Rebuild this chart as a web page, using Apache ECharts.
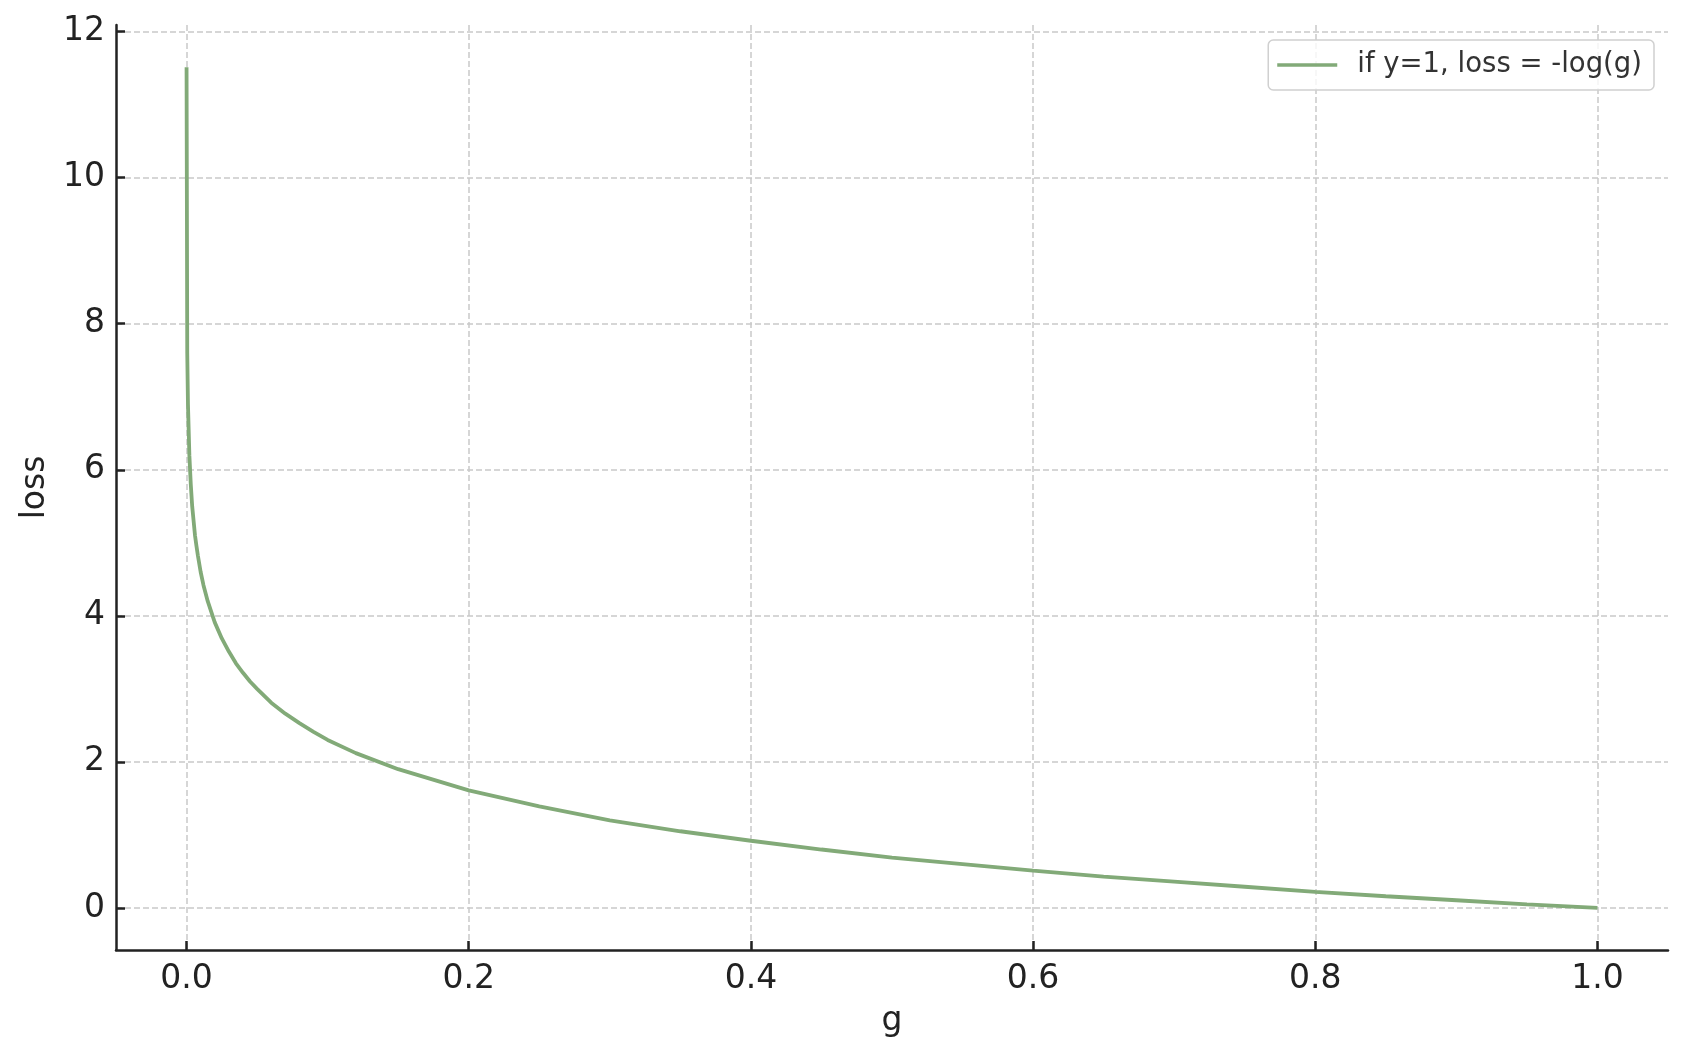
<!DOCTYPE html>
<html>
<head>
<meta charset="utf-8">
<script src="https://cdn.jsdelivr.net/npm/echarts@6/dist/echarts.min.js"></script>
<style>
html,body{margin:0;padding:0;background:#fff;}
#chart{width:1686px;height:1057px;}
</style>
</head>
<body>
<div id="chart"></div>
<script>
// Values
var gValues = [0.00001, 0.0005, 0.001, 0.002, 0.003, 0.004, 0.005, 0.006, 0.007, 0.008, 0.01, 0.012, 0.015, 0.02, 0.025, 0.03, 0.035, 0.04, 0.045, 0.05, 0.06, 0.07, 0.08, 0.09, 0.1, 0.12, 0.15, 0.2, 0.25, 0.3, 0.35, 0.4, 0.45, 0.5, 0.55, 0.6, 0.65, 0.7, 0.75, 0.8, 0.85, 0.9, 0.95, 1.0];
var lossValues = [11.51, 7.6, 6.9, 6.2, 5.8, 5.5, 5.3, 5.1, 4.96, 4.83, 4.6, 4.42, 4.2, 3.91, 3.69, 3.51, 3.35, 3.22, 3.1, 3.0, 2.81, 2.66, 2.53, 2.41, 2.3, 2.12, 1.9, 1.61, 1.39, 1.2, 1.05, 0.92, 0.8, 0.69, 0.6, 0.51, 0.43, 0.36, 0.29, 0.22, 0.16, 0.105, 0.05, 0.0];
var xTicks = [0, 0.2, 0.4, 0.6, 0.8, 1.0];
var yTicks = [0, 2, 4, 6, 8, 10, 12];
var seriesName = 'if y=1, loss = -log(g)';

var points = gValues.map(function (g, i) { return [g, lossValues[i]]; });

var chart = echarts.init(document.getElementById('chart'), null, {renderer: 'canvas'});
var font = 'DejaVu Sans';
var green = '#82aa78';
chart.setOption({
  animation: false,
  backgroundColor: '#ffffff',
  grid: {left: 116, right: 18, top: 25, bottom: 107, containLabel: false},
  legend: {
    data: [{name: seriesName, icon: 'rect'}],
    right: 32,
    top: 40,
    orient: 'horizontal',
    padding: [11, 12, 11, 9],
    backgroundColor: 'rgba(255,255,255,0.8)',
    borderColor: '#d0d0d0',
    borderWidth: 1.5,
    borderRadius: 5,
    itemWidth: 60,
    itemHeight: 3.5,
    itemStyle: {color: green},
    textStyle: {fontFamily: font, fontSize: 27.5, color: '#333333', padding: [0, 0, 0, 15]}
  },
  xAxis: {
    type: 'value',
    min: -0.05,
    max: 1.05,
    name: 'g',
    nameLocation: 'middle',
    nameGap: 55,
    nameTextStyle: {fontFamily: font, fontSize: 33, color: '#222222'},
    axisLine: {show: true, onZero: false, lineStyle: {color: '#222222', width: 2.5}},
    axisTick: {show: true, inside: true, length: 9, customValues: xTicks, lineStyle: {color: '#222222', width: 2.5}},
    axisLabel: {show: true, customValues: xTicks, margin: 13, fontFamily: font, fontSize: 33, color: '#222222',
      formatter: function (v) { return v.toFixed(1); }},
    splitLine: {show: true, lineStyle: {color: '#c9c9c9', width: 1.5, type: [6, 3]}}
  },
  yAxis: {
    type: 'value',
    min: -0.576,
    max: 12.09,
    name: 'loss',
    nameLocation: 'middle',
    nameGap: 59,
    nameRotate: 90,
    nameTextStyle: {fontFamily: font, fontSize: 33, color: '#222222'},
    axisLine: {show: true, onZero: false, lineStyle: {color: '#222222', width: 2.5}},
    axisTick: {show: true, inside: true, length: 9, customValues: yTicks, lineStyle: {color: '#222222', width: 2.5}},
    axisLabel: {show: true, customValues: yTicks, margin: 11, padding: [7, 0, 0, 0], fontFamily: font, fontSize: 33, color: '#222222'},
    splitLine: {show: true, lineStyle: {color: '#c9c9c9', width: 1.5, type: [6, 3]}}
  },
  series: [{
    name: seriesName,
    type: 'line',
    data: points,
    symbol: 'none',
    showSymbol: false,
    smooth: false,
    itemStyle: {color: green},
    lineStyle: {color: green, width: 3.8}
  }]
});
</script>
</body>
</html>
